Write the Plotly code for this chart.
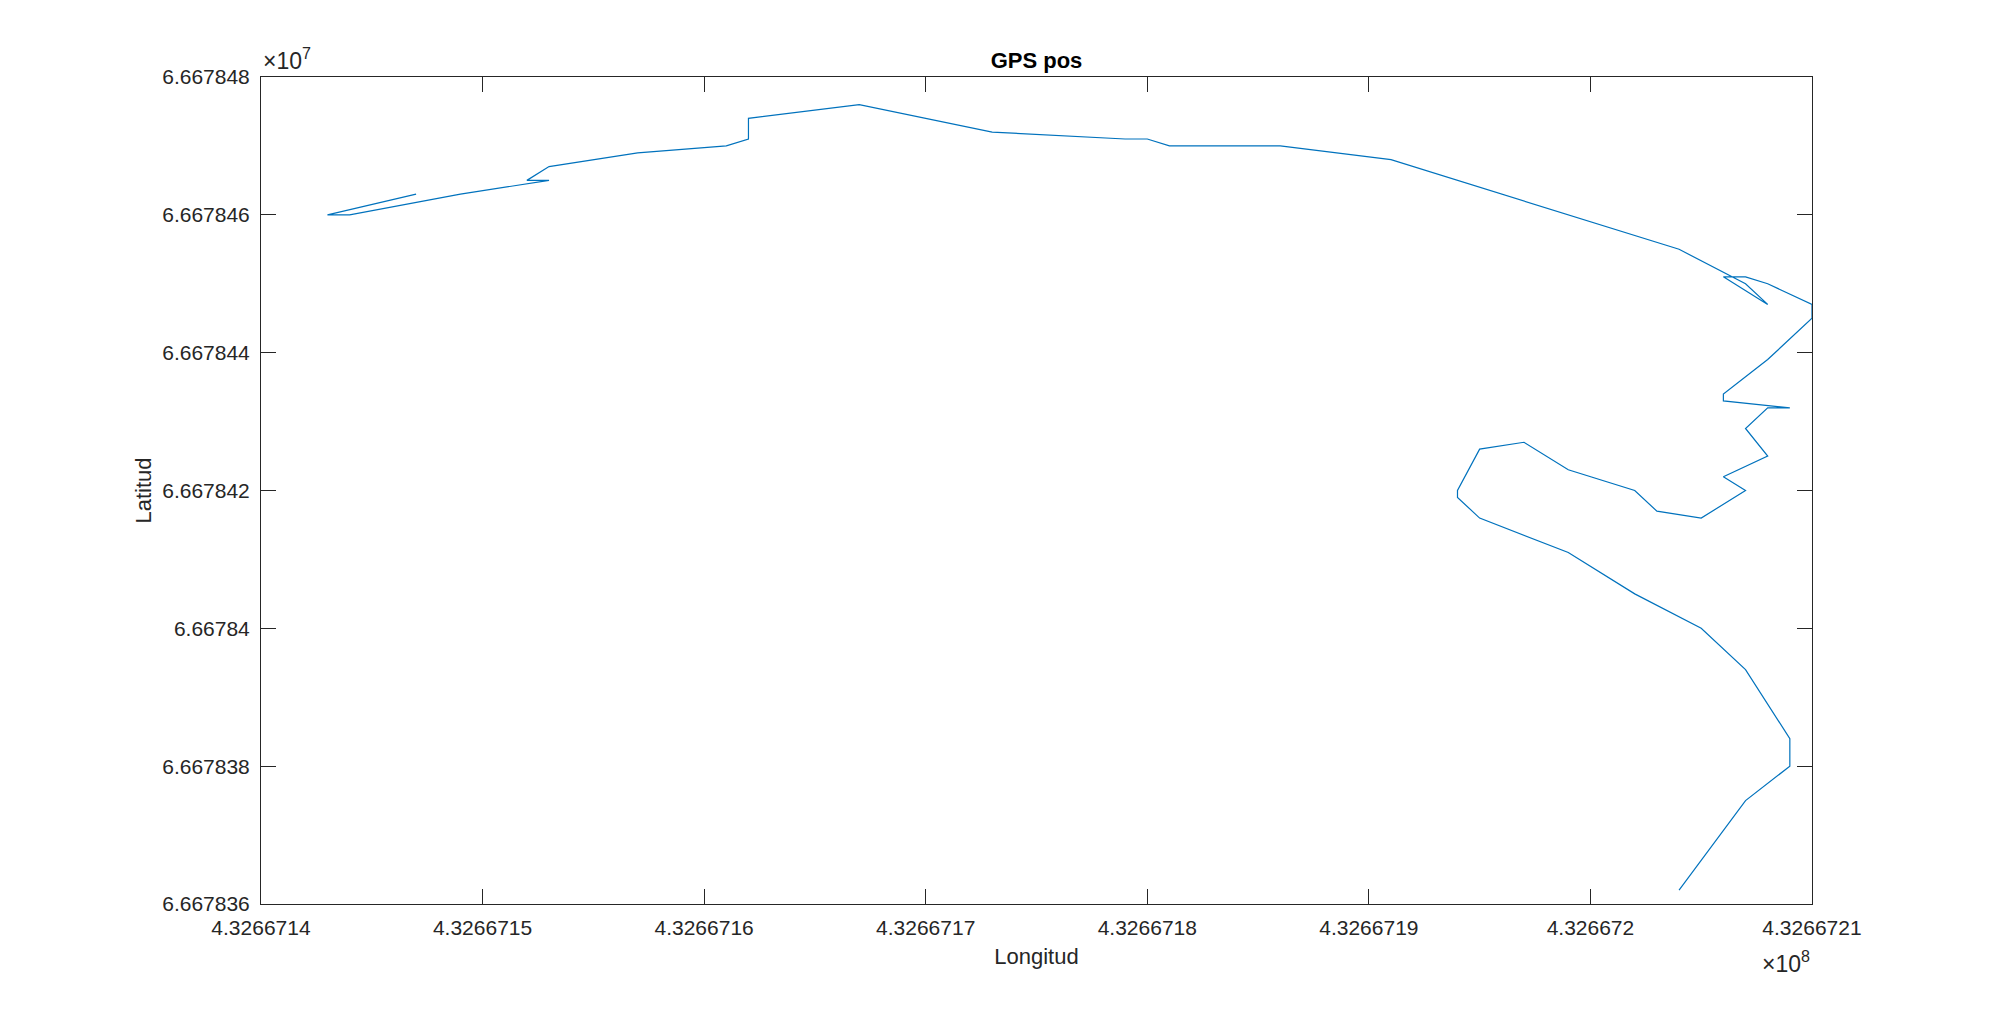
import plotly.graph_objects as go

# GPS track, raw integer units (lon x1e-8 -> shown as x10^8, lat x1e-7 -> x10^7)
lon = [432667147, 432667143, 432667144, 432667149, 432667153, 432667152, 432667153,
       432667157, 432667161, 432667162, 432667162, 432667167, 432667173, 432667179,
       432667180, 432667181, 432667186, 432667191, 432667204, 432667207, 432667208,
       432667206, 432667207, 432667208, 432667210, 432667210, 432667208, 432667206,
       432667206, 432667209, 432667208, 432667207, 432667208, 432667206, 432667207,
       432667205, 432667203, 432667202, 432667199, 432667197, 432667195, 432667194,
       432667194, 432667195, 432667199, 432667202, 432667205, 432667207, 432667209,
       432667209, 432667207, 432667204]
lat = [66678463, 66678460, 66678460, 66678463, 66678465, 66678465, 66678467,
       66678469, 66678470, 66678471, 66678474, 66678476, 66678472, 66678471,
       66678471, 66678470, 66678470, 66678468, 66678455, 66678450, 66678447,
       66678451, 66678451, 66678450, 66678447, 66678445, 66678439, 66678434,
       66678433, 66678432, 66678432, 66678429, 66678425, 66678422, 66678420,
       66678416, 66678417, 66678420, 66678423, 66678427, 66678426, 66678420,
       66678419, 66678416, 66678411, 66678405, 66678400, 66678394, 66678384,
       66678380, 66678375, 66678362]

xtick_labels = ["4.3266714", "4.3266715", "4.3266716", "4.3266717",
                "4.3266718", "4.3266719", "4.326672", "4.3266721"]
ytick_labels = ["6.667836", "6.667838", "6.66784", "6.667842",
                "6.667844", "6.667846", "6.667848"]

x = [v / 1e8 for v in lon]
y = [v / 1e7 for v in lat]
xticks = [float(s) for s in xtick_labels]
yticks = [float(s) for s in ytick_labels]

axcol = "#262626"
font = "Liberation Sans, Arial, sans-serif"

fig = go.Figure()
fig.add_trace(go.Scatter(x=x, y=y, mode="lines",
                         line=dict(color="#0072BD", width=1.2),
                         showlegend=False))

common = dict(showline=True, linecolor=axcol, linewidth=1, mirror="ticks",
              ticks="inside", ticklen=15, tickwidth=1, tickcolor=axcol,
              showgrid=False, zeroline=False,
              tickfont=dict(family=font, size=21, color=axcol))

fig.update_xaxes(range=[xticks[0], xticks[-1]], tickvals=xticks, ticktext=xtick_labels,
                 title=dict(text="Longitud", font=dict(family=font, size=22, color=axcol),
                            standoff=10),
                 ticklabelstandoff=5, **common)
fig.update_yaxes(range=[yticks[0], yticks[-1]], tickvals=yticks, ticktext=ytick_labels,
                 title=dict(text="Latitud", font=dict(family=font, size=22, color=axcol),
                            standoff=4),
                 ticklabelstandoff=6, **common)

# page body adds 8px margin, so the figure is 1984x1000
fig.update_layout(
    width=1984, height=1000,
    margin=dict(l=253, r=180, t=69, b=104),
    paper_bgcolor="white", plot_bgcolor="white",
    title=dict(text="<b>GPS pos</b>", x=0.5, xref="paper", xanchor="center",
               y=1, yref="paper", yanchor="bottom", pad=dict(b=9),
               font=dict(family=font, size=22, color="black")),
    annotations=[
        dict(text="×10<sup>7</sup>",
             xref="paper", yref="paper", x=0, y=1, yshift=1,
             xanchor="left", yanchor="bottom", showarrow=False,
             font=dict(family=font, size=23, color=axcol)),
        dict(text="×10<sup>8</sup>",
             xref="paper", yref="paper", x=1, y=-0.05,
             xanchor="right", yanchor="top", showarrow=False,
             font=dict(family=font, size=23, color=axcol)),
    ],
)

fig.write_html("out.html")
